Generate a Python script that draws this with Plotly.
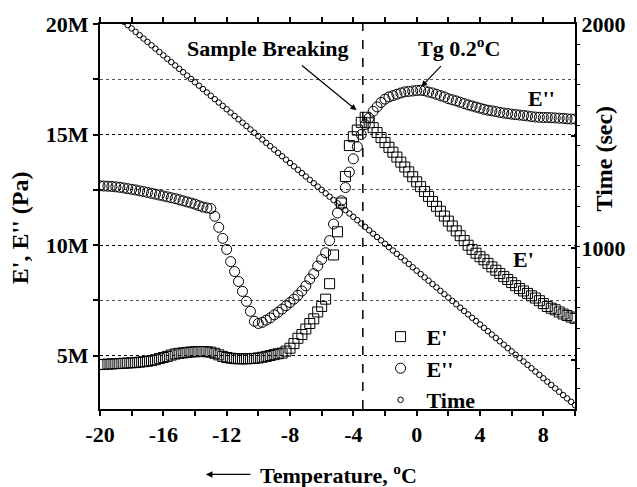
import plotly.graph_objects as go

# ---------------- data ----------------
TEMP = [-20, -19.75, -19.5, -19.25, -19, -18.75, -18.5, -18.25, -18, -17.75,
        -17.5, -17.25, -17, -16.75, -16.5, -16.25, -16, -15.75, -15.5, -15.25,
        -15, -14.75, -14.5, -14.25, -14, -13.75, -13.5, -13.25, -13, -12.75,
        -12.5, -12.25, -12, -11.75, -11.5, -11.25, -11, -10.75, -10.5, -10.25,
        -10, -9.75, -9.5, -9.25, -9, -8.75, -8.5, -8.25, -8, -7.75,
        -7.5, -7.25, -7, -6.75, -6.5, -6.25, -6, -5.75, -5.5, -5.25,
        -5, -4.75, -4.5, -4.25, -4, -3.75, -3.5, -3.25, -3, -2.75,
        -2.5, -2.25, -2, -1.75, -1.5, -1.25, -1, -0.75, -0.5, -0.25,
        0, 0.25, 0.5, 0.75, 1, 1.25, 1.5, 1.75, 2, 2.25,
        2.5, 2.75, 3, 3.25, 3.5, 3.75, 4, 4.25, 4.5, 4.75,
        5, 5.25, 5.5, 5.75, 6, 6.25, 6.5, 6.75, 7, 7.25,
        7.5, 7.75, 8, 8.25, 8.5, 8.75, 9, 9.25, 9.5, 9.75, 10]

# storage modulus E' (MPa)
E_STORAGE = [4.59, 4.60, 4.61, 4.62, 4.63, 4.64, 4.65, 4.66, 4.67, 4.68,
             4.70, 4.72, 4.74, 4.77, 4.81, 4.86, 4.91, 4.96, 5.02, 5.07,
             5.10, 5.12, 5.14, 5.16, 5.17, 5.18, 5.18, 5.17, 5.15, 5.10,
             5.03, 4.96, 4.91, 4.88, 4.86, 4.85, 4.85, 4.85, 4.86, 4.87,
             4.89, 4.92, 4.96, 5.00, 5.04, 5.08, 5.11, 5.20, 5.33, 5.54,
             5.78, 5.95, 6.20, 6.45, 6.66, 6.97, 7.22, 7.55, 8.25, 9.55,
             10.60, 11.90, 13.10, 14.50, 14.90, 15.20, 15.55, 15.78, 15.53, 15.31,
             15.09, 14.86, 14.64, 14.42, 14.20, 13.98, 13.75, 13.53, 13.31, 13.09,
             12.86, 12.64, 12.42, 12.20, 11.97, 11.75, 11.53, 11.31, 11.08, 10.86,
             10.64, 10.42, 10.20, 9.99, 9.80, 9.63, 9.47, 9.33, 9.17, 9.01,
             8.86, 8.71, 8.57, 8.44, 8.30, 8.16, 8.03, 7.92, 7.81, 7.70,
             7.60, 7.48, 7.35, 7.22, 7.14, 7.07, 6.97, 6.88, 6.81, 6.74, 6.68]

# loss modulus E'' (MPa)
E_LOSS = [12.68, 12.67, 12.66, 12.65, 12.63, 12.61, 12.58, 12.55, 12.52, 12.49,
          12.45, 12.42, 12.38, 12.34, 12.30, 12.26, 12.22, 12.18, 12.14, 12.10,
          12.05, 12.00, 11.95, 11.90, 11.85, 11.78, 11.72, 11.68, 11.65, 11.30,
          10.80, 10.30, 9.80, 9.25, 8.80, 8.35, 7.90, 7.45, 7.00, 6.55,
          6.45, 6.50, 6.60, 6.70, 6.84, 6.96, 7.10, 7.25, 7.40, 7.55,
          7.73, 7.92, 8.15, 8.46, 8.70, 9.05, 9.35, 9.65, 10.20, 10.95,
          11.45, 12.00, 12.60, 13.30, 13.90, 14.45, 15.00, 15.45, 15.75, 16.05,
          16.25, 16.45, 16.60, 16.70, 16.76, 16.82, 16.88, 16.93, 16.95, 16.97,
          16.99, 17.00, 16.98, 16.92, 16.88, 16.82, 16.76, 16.70, 16.62, 16.57,
          16.52, 16.46, 16.40, 16.34, 16.29, 16.24, 16.19, 16.14, 16.10, 16.07,
          16.04, 16.00, 15.97, 15.95, 15.92, 15.90, 15.88, 15.86, 15.84, 15.81,
          15.79, 15.78, 15.77, 15.77, 15.76, 15.75, 15.74, 15.73, 15.71, 15.70, 15.70]

# elapsed time (s)
TIME = [2100, 2085, 2070, 2055, 2040, 2025, 2010, 1995, 1980, 1965,
        1950, 1935, 1920, 1905, 1890, 1875, 1860, 1845, 1830, 1815,
        1800, 1785, 1770, 1755, 1740, 1725, 1710, 1695, 1680, 1665,
        1650, 1635, 1620, 1605, 1590, 1575, 1560, 1545, 1530, 1515,
        1500, 1485, 1470, 1455, 1440, 1425, 1410, 1395, 1380, 1365,
        1350, 1335, 1320, 1305, 1290, 1275, 1260, 1245, 1230, 1215,
        1200, 1185, 1170, 1155, 1140, 1125, 1110, 1095, 1080, 1065,
        1050, 1035, 1020, 1005, 990, 975, 960, 945, 930, 915,
        900, 885, 870, 855, 840, 825, 810, 795, 780, 765,
        750, 735, 720, 705, 690, 675, 660, 645, 630, 615,
        600, 585, 570, 555, 540, 525, 510, 495, 480, 465,
        450, 435, 420, 405, 390, 375, 360, 345, 330, 315, 300]

X_TICKS = [-20, -16, -12, -8, -4, 0, 4, 8]
X_TICKTEXT = ["-20", "-16", "-12", "-8", "-4", "0", "4", "8"]
X_MINOR = [-18, -14, -10, -6, -2, 2, 6, 10]
Y_TICKS = [5, 10, 15, 20]
Y_TICKTEXT = ["5M", "10M", "15M", "20M"]
Y_MINOR = [7.5, 12.5, 17.5]
Y2_TICKS = [500, 1000, 1500, 2000]
Y2_TICKTEXT = ["", "1000", "", "2000"]

BREAK_T = -3.4           # sample breaking temperature
TG_T, TG_E = 0.3, 17.17  # Tg peak
BREAK_PT = (-3.8, 16.1)

FONT = "Liberation Serif"
tickfont = dict(family=FONT, size=22, color="black")


def bold(labels):
    return ["<b>%s</b>" % s if s else "" for s in labels]


fig = go.Figure()
fig.add_trace(go.Scatter(
    x=TEMP, y=E_STORAGE, mode="markers", name="<b>E'</b>",
    marker=dict(symbol="square-open", size=10, color="black", line=dict(width=1))))
fig.add_trace(go.Scatter(
    x=TEMP, y=E_LOSS, mode="markers", name="<b>E''</b>",
    marker=dict(symbol="circle-open", size=10, color="black", line=dict(width=1))))
fig.add_trace(go.Scatter(
    x=TEMP, y=TIME, mode="markers", name="<b>Time</b>", yaxis="y2",
    marker=dict(symbol="circle-open", size=5.5, color="black", line=dict(width=1))))

fig.update_layout(
    width=637, height=487,
    margin=dict(l=100, r=57, t=21, b=78),
    paper_bgcolor="white", plot_bgcolor="white",
    font=dict(family=FONT, size=22, color="black"),
    showlegend=True,
    legend=dict(x=0.578, y=0.242, xanchor="left", yanchor="top",
                bgcolor="rgba(0,0,0,0)", font=dict(family=FONT, size=22),
                tracegroupgap=0, itemwidth=42),
    xaxis=dict(range=[-20, 10], tickmode="array", tickvals=X_TICKS, ticktext=bold(X_TICKTEXT),
               ticks="outside", ticklen=5, tickwidth=1.5, tickcolor="black",
               showline=True, linewidth=2, linecolor="black", mirror="allticks",
               showgrid=False, zeroline=False, tickfont=tickfont,
               minor=dict(tickvals=X_MINOR, ticks="outside", ticklen=4, tickwidth=1.5,
                          tickcolor="black", showgrid=False)),
    yaxis=dict(range=[2.58, 20], tickmode="array", tickvals=Y_TICKS, ticktext=bold(Y_TICKTEXT),
               ticks="outside", ticklen=5, tickwidth=1.5, tickcolor="black",
               showline=True, linewidth=2, linecolor="black",
               showgrid=True, gridcolor="black", griddash="dot", gridwidth=1,
               zeroline=False, tickfont=tickfont,
               minor=dict(tickvals=Y_MINOR, ticks="outside", ticklen=5, tickwidth=1.5,
                          tickcolor="black", showgrid=True, gridcolor="#555",
                          griddash="dot", gridwidth=1)),
    yaxis2=dict(overlaying="y", side="right", range=[283, 2000],
                tickmode="array", tickvals=Y2_TICKS, ticktext=bold(Y2_TICKTEXT),
                ticks="inside", ticklen=4, tickwidth=1.5, tickcolor="black",
                showline=True, linewidth=2, linecolor="black",
                showgrid=False, zeroline=False, tickfont=tickfont,
                minor=dict(tickmode="linear", tick0=2000, dtick=90.4, ticks="outside",
                           ticklen=3, tickwidth=1, tickcolor="black", showgrid=False)),
)

fig.add_shape(type="line", xref="x", yref="paper", x0=BREAK_T, x1=BREAK_T, y0=0, y1=1,
              line=dict(color="black", width=1.5, dash="dash"))

C = dict(xanchor="center", yanchor="middle", showarrow=False)
ann = []
# titles
ann.append(dict(text="<b>E', E'' (Pa)</b>", xref="paper", yref="paper", x=-0.1667, y=0.4716,
                textangle=-90, font=dict(size=24), **C))
ann.append(dict(text="<b>Time (sec)</b>", xref="paper", yref="paper", x=1.062, y=0.652,
                textangle=-90, font=dict(size=24), **C))
ann.append(dict(text="<b>Temperature, <sup>o</sup>C</b>", xref="paper", yref="paper",
                x=0.502, y=-0.170, font=dict(size=22), **C))
ann.append(dict(text="", xref="paper", yref="paper", x=0.223, y=-0.170, ax=46, ay=0,
                showarrow=True, arrowhead=2, arrowsize=1, arrowwidth=1.3, arrowcolor="black"))
# callouts
ann.append(dict(text="<b>Sample Breaking</b>", xref="paper", yref="paper", x=0.354, y=0.936,
                font=dict(size=22), **C))
ann.append(dict(text="", x=BREAK_PT[0], y=BREAK_PT[1], xref="x", yref="y", ax=-56, ay=-46,
                showarrow=True, arrowhead=2, arrowsize=1, arrowwidth=1.2, arrowcolor="black"))
ann.append(dict(text="<b>Tg 0.2<sup>o</sup>C</b>", xref="paper", yref="paper", x=0.756, y=0.94,
                font=dict(size=22), **C))
ann.append(dict(text="", x=TG_T, y=TG_E, xref="x", yref="y", ax=21, ay=-22,
                showarrow=True, arrowhead=2, arrowsize=1, arrowwidth=1.2, arrowcolor="black"))
ann.append(dict(text="<b>E''</b>", x=7.875, y=16.63, xref="x", yref="y",
                font=dict(size=22), **C))
ann.append(dict(text="<b>E'</b>", x=6.75, y=9.36, xref="x", yref="y",
                font=dict(size=22), **C))
fig.update_layout(annotations=ann)

fig.write_html("out.html")
